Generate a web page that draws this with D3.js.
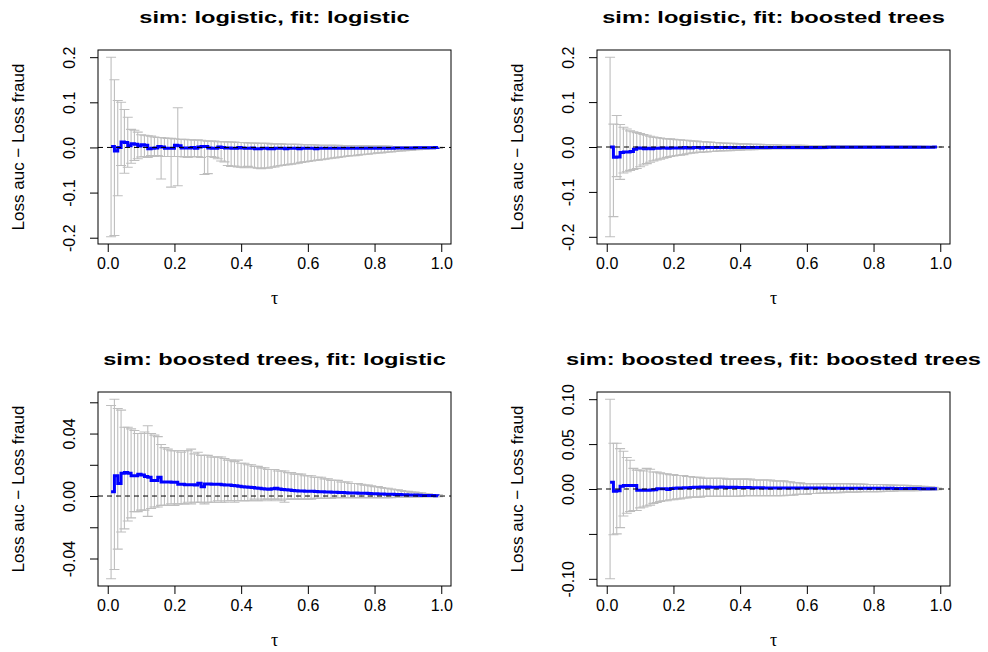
<!DOCTYPE html>
<html>
<head>
<meta charset="utf-8">
<title>Loss auc - Loss fraud by tau</title>
<style>
  body { margin: 0; background: #fff; }
  svg text { font-family: "Liberation Sans", Arial, Helvetica, sans-serif; fill: #000; }
</style>
</head>
<body>
<svg id="chart" width="988" height="652"></svg>
<script src="https://d3js.org/d3.v7.min.js"></script>
<script>
// tau grid shared by all four panels
const tau = [
  0.01, 0.02, 0.03, 0.04, 0.05, 0.06, 0.07, 0.08, 0.09, 0.10,
  0.11, 0.12, 0.13, 0.14, 0.15, 0.16, 0.17, 0.18, 0.19, 0.20,
  0.21, 0.22, 0.23, 0.24, 0.25, 0.26, 0.27, 0.28, 0.29, 0.30,
  0.31, 0.32, 0.33, 0.34, 0.35, 0.36, 0.37, 0.38, 0.39, 0.40,
  0.41, 0.42, 0.43, 0.44, 0.45, 0.46, 0.47, 0.48, 0.49, 0.50,
  0.51, 0.52, 0.53, 0.54, 0.55, 0.56, 0.57, 0.58, 0.59, 0.60,
  0.61, 0.62, 0.63, 0.64, 0.65, 0.66, 0.67, 0.68, 0.69, 0.70,
  0.71, 0.72, 0.73, 0.74, 0.75, 0.76, 0.77, 0.78, 0.79, 0.80,
  0.81, 0.82, 0.83, 0.84, 0.85, 0.86, 0.87, 0.88, 0.89, 0.90,
  0.91, 0.92, 0.93, 0.94, 0.95, 0.96, 0.97, 0.98, 0.99
];

const titles = [
  "sim: logistic, fit: logistic",
  "sim: logistic, fit: boosted trees",
  "sim: boosted trees, fit: logistic",
  "sim: boosted trees, fit: boosted trees"
];

// panel 1: sim logistic, fit logistic
const mean1 = [
  0.002, -0.008, 0.000, 0.012, 0.011, 0.004, 0.008, 0.007, 0.003, 0.006,
  0.005, -0.003, -0.002, -0.001, 0.002, 0.001, -0.002, -0.002, -0.002, 0.005,
  0.004, -0.001, -0.001, -0.001, 0.000, -0.002, 0.001, 0.002, 0.002, -0.001,
  -0.002, -0.002, 0.001, 0.000, -0.001, -0.001, -0.002, -0.002, 0.000, -0.001,
  -0.002, -0.002, -0.001, -0.003, -0.003, -0.002, -0.002, -0.003, -0.003, -0.002,
  -0.002, -0.002, -0.003, -0.002, -0.002, -0.002, -0.003, -0.002, -0.002, -0.002,
  -0.002, -0.003, -0.002, -0.002, -0.002, -0.002, -0.002, -0.002, -0.002, -0.002,
  -0.002, -0.002, -0.002, -0.002, -0.002, -0.002, -0.0015, -0.0015, -0.0015, -0.0015,
  -0.0015, -0.0015, -0.0015, -0.0015, -0.0015, -0.0012, -0.0012, -0.001, -0.001, -0.001,
  -0.001, -0.0008, -0.0008, -0.0006, -0.0006, -0.0005, -0.0004, -0.0003, -0.0002
];
const upper1 = [
  0.200, 0.150, 0.104, 0.100, 0.084, 0.067, 0.040, 0.038, 0.034, 0.028,
  0.027, 0.026, 0.025, 0.023, 0.022, 0.022, 0.021, 0.020, 0.020, 0.019,
  0.088, 0.018, 0.018, 0.017, 0.017, 0.016, 0.017, 0.016, 0.015, 0.014,
  0.014, 0.014, 0.013, 0.013, 0.013, 0.012, 0.012, 0.012, 0.011, 0.011,
  0.011, 0.010, 0.010, 0.010, 0.009, 0.009, 0.009, 0.009, 0.008, 0.008,
  0.008, 0.008, 0.007, 0.007, 0.007, 0.007, 0.007, 0.006, 0.006, 0.006,
  0.006, 0.006, 0.005, 0.005, 0.005, 0.005, 0.005, 0.005, 0.005, 0.004,
  0.004, 0.004, 0.004, 0.004, 0.004, 0.004, 0.004, 0.003, 0.003, 0.003,
  0.003, 0.003, 0.003, 0.003, 0.002, 0.002, 0.002, 0.002, 0.002, 0.002,
  0.002, 0.0015, 0.0015, 0.0012, 0.001, 0.001, 0.0008, 0.0006, 0.0005
];
const lower1 = [
  -0.198, -0.195, -0.107, -0.040, -0.057, -0.044, -0.035, -0.029, -0.025, -0.021,
  -0.020, -0.022, -0.018, -0.020, -0.018, -0.070, -0.020, -0.020, -0.088, -0.020,
  -0.085, -0.020, -0.021, -0.022, -0.020, -0.021, -0.020, -0.022, -0.060, -0.058,
  -0.020, -0.022, -0.025, -0.030, -0.032, -0.040, -0.042, -0.041, -0.043, -0.044,
  -0.045, -0.042, -0.044, -0.045, -0.046, -0.047, -0.045, -0.046, -0.044, -0.043,
  -0.041, -0.040, -0.039, -0.038, -0.037, -0.036, -0.035, -0.033, -0.032, -0.031,
  -0.030, -0.029, -0.028, -0.027, -0.026, -0.025, -0.024, -0.023, -0.022, -0.021,
  -0.020, -0.019, -0.018, -0.018, -0.017, -0.016, -0.015, -0.015, -0.014, -0.013,
  -0.012, -0.012, -0.011, -0.010, -0.010, -0.009, -0.008, -0.008, -0.007, -0.006,
  -0.006, -0.005, -0.005, -0.004, -0.004, -0.003, -0.003, -0.002, -0.002
];

// panel 2: sim logistic, fit boosted trees
const mean2 = [
  0.000, -0.023, -0.022, -0.012, -0.011, -0.011, -0.010, -0.005, -0.002, -0.003,
  -0.004, -0.003, -0.004, -0.003, -0.003, -0.002, -0.002, -0.003, -0.002, -0.002,
  -0.002, -0.002, -0.001, -0.002, -0.002, -0.001, -0.001, -0.002, -0.001, -0.001,
  -0.001, -0.001, -0.001, -0.001, -0.001, -0.001, -0.001, -0.001, -0.001, -0.001,
  -0.001, -0.001, -0.001, -0.001, -0.001, -0.001, -0.001, -0.001, -0.001, -0.001,
  -0.001, -0.001, -0.001, -0.001, -0.001, -0.001, -0.001, -0.001, -0.001, -0.001,
  -0.0009, -0.0009, -0.0009, -0.0009, -0.0009, -0.0008, -0.0008, -0.0008, -0.0008, -0.0008,
  -0.0008, -0.0008, -0.0008, -0.0008, -0.0008, -0.0007, -0.0007, -0.0007, -0.0007, -0.0007,
  -0.0006, -0.0006, -0.0006, -0.0006, -0.0006, -0.0005, -0.0005, -0.0005, -0.0005, -0.0005,
  -0.0004, -0.0004, -0.0004, -0.0004, -0.0004, -0.0003, -0.0003, -0.0002, -0.0002
];
const upper2 = [
  0.200, 0.051, 0.070, 0.050, 0.044, 0.040, 0.036, 0.034, 0.032, 0.030,
  0.028, 0.026, 0.024, 0.022, 0.021, 0.020, 0.019, 0.018, 0.018, 0.017,
  0.016, 0.016, 0.015, 0.015, 0.014, 0.013, 0.013, 0.012, 0.012, 0.011,
  0.011, 0.010, 0.010, 0.009, 0.009, 0.008, 0.008, 0.008, 0.007, 0.007,
  0.007, 0.007, 0.006, 0.006, 0.006, 0.006, 0.005, 0.005, 0.005, 0.005,
  0.005, 0.004, 0.004, 0.004, 0.004, 0.004, 0.004, 0.004, 0.004, 0.003,
  0.003, 0.003, 0.003, 0.003, 0.003, 0.003, 0.003, 0.003, 0.003, 0.003,
  0.003, 0.003, 0.003, 0.003, 0.003, 0.0025, 0.0025, 0.0025, 0.0025, 0.0025,
  0.0025, 0.0025, 0.0025, 0.002, 0.002, 0.002, 0.002, 0.002, 0.002, 0.002,
  0.002, 0.002, 0.002, 0.0015, 0.0015, 0.0015, 0.001, 0.001, 0.001
];
const lower2 = [
  -0.200, -0.155, -0.066, -0.072, -0.058, -0.055, -0.052, -0.050, -0.048, -0.044,
  -0.040, -0.037, -0.034, -0.031, -0.029, -0.027, -0.025, -0.023, -0.021, -0.020,
  -0.019, -0.018, -0.017, -0.015, -0.014, -0.013, -0.012, -0.012, -0.011, -0.011,
  -0.010, -0.010, -0.009, -0.009, -0.008, -0.008, -0.008, -0.007, -0.007, -0.007,
  -0.006, -0.006, -0.006, -0.006, -0.005, -0.005, -0.005, -0.005, -0.004, -0.004,
  -0.004, -0.004, -0.004, -0.004, -0.004, -0.004, -0.004, -0.004, -0.004, -0.004,
  -0.004, -0.004, -0.004, -0.004, -0.004, -0.0035, -0.0035, -0.0035, -0.0035, -0.0035,
  -0.0035, -0.0035, -0.0035, -0.003, -0.003, -0.003, -0.003, -0.003, -0.003, -0.003,
  -0.003, -0.003, -0.003, -0.0025, -0.0025, -0.0025, -0.0025, -0.0025, -0.0025, -0.0025,
  -0.002, -0.002, -0.002, -0.002, -0.0015, -0.0015, -0.0015, -0.001, -0.001
];

// panel 3: sim boosted trees, fit logistic
const mean3 = [
  0.0028, 0.013, 0.008, 0.0146, 0.015, 0.0146, 0.013, 0.013, 0.014, 0.0135,
  0.0125, 0.012, 0.010, 0.010, 0.012, 0.009, 0.009, 0.009, 0.0088, 0.0088,
  0.0075, 0.0075, 0.0073, 0.0072, 0.0072, 0.0070, 0.0082, 0.0060, 0.0077, 0.0077,
  0.0076, 0.0076, 0.0075, 0.0072, 0.0070, 0.0070, 0.0068, 0.0066, 0.0062, 0.0060,
  0.0058, 0.0056, 0.0055, 0.0052, 0.0050, 0.0047, 0.0045, 0.0044, 0.0046, 0.0050,
  0.0045, 0.0042, 0.0040, 0.0038, 0.0035, 0.0033, 0.0032, 0.0032, 0.0031, 0.0030,
  0.0030, 0.0029, 0.0028, 0.0027, 0.0026, 0.0025, 0.0024, 0.0024, 0.0023, 0.0022,
  0.0021, 0.0020, 0.0020, 0.0019, 0.0018, 0.0017, 0.0017, 0.0016, 0.0015, 0.0014,
  0.0013, 0.0013, 0.0012, 0.0012, 0.0011, 0.0010, 0.0009, 0.0008, 0.0008, 0.0007,
  0.0006, 0.0006, 0.0005, 0.0004, 0.0004, 0.0003, 0.0003, 0.0002, 0.0001
];
const upper3 = [
  0.058, 0.062, 0.056, 0.055, 0.044, 0.044, 0.043, 0.042, 0.040, 0.040,
  0.041, 0.045, 0.040, 0.039, 0.038, 0.033, 0.031, 0.030, 0.029, 0.029,
  0.029, 0.028, 0.029, 0.029, 0.030, 0.027, 0.028, 0.026, 0.026, 0.026,
  0.025, 0.025, 0.025, 0.025, 0.024, 0.023, 0.023, 0.022, 0.023, 0.021,
  0.021, 0.020, 0.020, 0.019, 0.019, 0.018, 0.018, 0.017, 0.017, 0.017,
  0.016, 0.016, 0.016, 0.015, 0.015, 0.014, 0.014, 0.014, 0.013, 0.013,
  0.013, 0.012, 0.012, 0.012, 0.011, 0.011, 0.010, 0.010, 0.010, 0.009,
  0.009, 0.009, 0.008, 0.008, 0.008, 0.0075, 0.007, 0.007, 0.0065, 0.006,
  0.006, 0.0055, 0.005, 0.005, 0.0045, 0.004, 0.004, 0.0035, 0.003, 0.003,
  0.0025, 0.0025, 0.002, 0.002, 0.0015, 0.0015, 0.001, 0.001, 0.0008
];
const lower3 = [
  -0.053, -0.047, -0.034, -0.023, -0.021, -0.016, -0.014, -0.010, -0.010, -0.009,
  -0.009, -0.013, -0.008, -0.007, -0.007, -0.006, -0.006, -0.006, -0.005, -0.006,
  -0.005, -0.005, -0.005, -0.004, -0.005, -0.004, -0.004, -0.004, -0.005, -0.004,
  -0.004, -0.004, -0.003, -0.004, -0.004, -0.003, -0.003, -0.004, -0.003, -0.003,
  -0.003, -0.003, -0.003, -0.002, -0.003, -0.003, -0.002, -0.002, -0.003, -0.002,
  -0.002, -0.003, -0.004, -0.002, -0.002, -0.002, -0.002, -0.002, -0.002, -0.002,
  -0.002, -0.0015, -0.0015, -0.0015, -0.0015, -0.0015, -0.0015, -0.001, -0.001, -0.001,
  -0.001, -0.001, -0.001, -0.001, -0.001, -0.001, -0.001, -0.001, -0.001, -0.001,
  -0.001, -0.001, -0.001, -0.001, -0.001, -0.0008, -0.0008, -0.0008, -0.0008, -0.0008,
  -0.0006, -0.0006, -0.0006, -0.0005, -0.0005, -0.0005, -0.0004, -0.0004, -0.0004
];

// panel 4: sim boosted trees, fit boosted trees
const mean4 = [
  0.0075, -0.0025, -0.002, 0.003, 0.004, 0.004, 0.004, 0.004, -0.0015, -0.0015,
  -0.0015, -0.0015, -0.001, -0.0007, 0.0003, 0.0003, 0.0002, -0.0005, 0.0005, 0.0008,
  0.0010, 0.0012, 0.0014, 0.0015, 0.0018, 0.0020, 0.0020, 0.0022, 0.0020, 0.0021,
  0.0020, 0.0019, 0.0020, 0.0021, 0.0019, 0.0018, 0.0019, 0.0020, 0.0018, 0.0017,
  0.0016, 0.0016, 0.0015, 0.0014, 0.0013, 0.0013, 0.0012, 0.0012, 0.0012, 0.0011,
  0.0011, 0.0011, 0.0011, 0.0011, 0.0011, 0.0010, 0.0010, 0.0010, 0.0010, 0.0010,
  0.0010, 0.0010, 0.0010, 0.0010, 0.0010, 0.0009, 0.0009, 0.0009, 0.0009, 0.0009,
  0.0009, 0.0009, 0.0009, 0.0008, 0.0008, 0.0008, 0.0008, 0.0008, 0.0008, 0.0008,
  0.0007, 0.0007, 0.0007, 0.0007, 0.0007, 0.0006, 0.0006, 0.0006, 0.0006, 0.0006,
  0.0005, 0.0005, 0.0005, 0.0004, 0.0004, 0.0004, 0.0003, 0.0002, 0.0002
];
const upper4 = [
  0.100, 0.051, 0.051, 0.045, 0.042, 0.035, 0.032, 0.023, 0.021, 0.021,
  0.020, 0.023, 0.022, 0.019, 0.019, 0.018, 0.017, 0.017, 0.016, 0.016,
  0.015, 0.015, 0.015, 0.014, 0.014, 0.013, 0.013, 0.013, 0.012, 0.012,
  0.012, 0.012, 0.012, 0.012, 0.012, 0.011, 0.011, 0.011, 0.011, 0.011,
  0.011, 0.011, 0.011, 0.010, 0.010, 0.010, 0.010, 0.010, 0.010, 0.009,
  0.009, 0.009, 0.009, 0.008, 0.008, 0.007, 0.007, 0.007, 0.006, 0.006,
  0.006, 0.006, 0.006, 0.006, 0.006, 0.006, 0.006, 0.006, 0.006, 0.006,
  0.006, 0.006, 0.006, 0.0055, 0.0055, 0.0055, 0.0055, 0.005, 0.005, 0.005,
  0.005, 0.005, 0.005, 0.0045, 0.0045, 0.0045, 0.004, 0.004, 0.004, 0.004,
  0.0035, 0.0035, 0.0035, 0.003, 0.003, 0.0025, 0.0025, 0.002, 0.001
];
const lower4 = [
  -0.100, -0.051, -0.050, -0.043, -0.030, -0.027, -0.025, -0.024, -0.024, -0.021,
  -0.020, -0.019, -0.018, -0.016, -0.015, -0.014, -0.013, -0.013, -0.012, -0.012,
  -0.011, -0.011, -0.010, -0.010, -0.009, -0.009, -0.009, -0.009, -0.008, -0.008,
  -0.008, -0.008, -0.008, -0.008, -0.008, -0.008, -0.008, -0.008, -0.008, -0.008,
  -0.0075, -0.0075, -0.0075, -0.0075, -0.0075, -0.0075, -0.0075, -0.0075, -0.0075, -0.0075,
  -0.0075, -0.0075, -0.0075, -0.007, -0.007, -0.007, -0.006, -0.006, -0.006, -0.006,
  -0.005, -0.005, -0.005, -0.0045, -0.0045, -0.0045, -0.004, -0.004, -0.004, -0.004,
  -0.0035, -0.0035, -0.0035, -0.0035, -0.0035, -0.003, -0.003, -0.003, -0.003, -0.003,
  -0.003, -0.003, -0.0025, -0.0025, -0.0025, -0.0025, -0.002, -0.002, -0.002, -0.002,
  -0.002, -0.002, -0.002, -0.0015, -0.0015, -0.0015, -0.001, -0.001, -0.0007
];

// axis ticks; labels R managed to fit without overlap
const xTicks = [0, 0.2, 0.4, 0.6, 0.8, 1.0];
const yTicksWide = [-0.2, -0.1, 0, 0.1, 0.2];
const yTicks3 = [-0.04, -0.02, 0, 0.02, 0.04, 0.06];
const yLabels3 = [-0.04, 0, 0.04];
const yTicks4 = [-0.10, -0.05, 0, 0.05, 0.10];
const yLabels4 = [-0.10, 0, 0.05, 0.10];

const panels = [
  { title: titles[0], mean: mean1, lo: lower1, hi: upper1, ticks: yTicksWide, labels: yTicksWide, fmt: ".1f", left: 98,  top: 50 },
  { title: titles[1], mean: mean2, lo: lower2, hi: upper2, ticks: yTicksWide, labels: yTicksWide, fmt: ".1f", left: 597, top: 50 },
  { title: titles[2], mean: mean3, lo: lower3, hi: upper3, ticks: yTicks3,    labels: yLabels3,   fmt: ".2f", left: 98,  top: 392 },
  { title: titles[3], mean: mean4, lo: lower4, hi: upper4, ticks: yTicks4,    labels: yLabels4,   fmt: ".2f", left: 597, top: 392 }
];

const pw = 353, ph = 194;
const svg = d3.select('#chart');

// R style axis range: data range padded by 4% on each side
function rRange(lo, hi) {
  const r = hi - lo;
  return [lo - 0.04 * r, hi + 0.04 * r];
}

// horizontal stretch of the original titles
const SX = 1.39;

panels.forEach(function(p) {
  const g = svg.append('g').attr('transform', `translate(${p.left}, ${p.top})`);

  const x = d3.scaleLinear()
    .domain(rRange(d3.min(tau), d3.max(tau)))
    .range([0, pw]);
  const y = d3.scaleLinear()
    .domain(rRange(d3.min(p.lo), d3.max(p.hi)))
    .range([ph, 0]);

  const rows = tau.map((t, i) => ({ t: t, m: p.mean[i], lo: p.lo[i], hi: p.hi[i] }));

  // error bars with flat caps
  const bars = g.append('g')
    .attr('stroke', '#bebebe')
    .attr('stroke-width', 1.1)
    .attr('fill', 'none');
  bars.selectAll('.bar')
    .data(rows)
    .enter()
    .append('path')
    .attr('class', 'bar')
    .attr('d', function(d) {
      const cx = x(d.t), y1 = y(d.lo), y2 = y(d.hi);
      return `M${cx},${y1}V${y2}M${cx - 5},${y1}H${cx + 5}M${cx - 5},${y2}H${cx + 5}`;
    });

  // mean as a step line
  const line = d3.line()
    .x(d => x(d.t))
    .y(d => y(d.m))
    .curve(d3.curveStepAfter);
  g.append('path')
    .datum(rows)
    .attr('d', line)
    .attr('fill', 'none')
    .attr('stroke', '#0000ff')
    .attr('stroke-width', 3);

  // reference line at zero
  g.append('line')
    .attr('x1', 0)
    .attr('x2', pw)
    .attr('y1', y(0))
    .attr('y2', y(0))
    .attr('stroke', '#000')
    .attr('stroke-dasharray', '5,4');

  // box
  g.append('rect')
    .attr('x', 0)
    .attr('y', 0)
    .attr('width', pw)
    .attr('height', ph)
    .attr('fill', 'none')
    .attr('stroke', '#000');

  // x axis
  const xAxis = g.append('g')
    .attr('transform', `translate(0, ${ph})`)
    .call(d3.axisBottom(x).tickValues(xTicks).tickSize(8).tickSizeOuter(0).tickPadding(6).tickFormat(d3.format('.1f')));
  xAxis.select('.domain').remove();
  xAxis.selectAll('text')
    .attr('font-size', 16)
    .attr('font-family', null);

  // y axis with labels parallel to the axis
  const yAxis = g.append('g')
    .call(d3.axisLeft(y).tickValues(p.ticks).tickSize(8).tickSizeOuter(0).tickFormat(''));
  yAxis.select('.domain').remove();
  yAxis.selectAll('.tick')
    .filter(d => p.labels.some(v => Math.abs(v - d) < 1e-9))
    .append('text')
    .attr('transform', 'rotate(-90)')
    .attr('x', 0)
    .attr('y', -23)
    .attr('text-anchor', 'middle')
    .attr('font-size', 16)
    .text(d => d3.format(p.fmt)(d).replace('\u2212', '-'));

  // title
  g.append('text')
    .attr('transform', `translate(${pw / 2}, ${-27}) scale(${SX}, 1)`)
    .attr('text-anchor', 'middle')
    .attr('font-size', 17)
    .attr('font-weight', 'bold')
    .text(p.title);

  // axis titles
  g.append('text')
    .attr('x', pw / 2)
    .attr('y', ph + 60)
    .attr('text-anchor', 'middle')
    .attr('font-size', 18)
    .style('font-family', '"Liberation Serif", "DejaVu Serif", serif')
    .text('\u03c4');
  g.append('text')
    .attr('transform', `translate(-74, ${ph / 2}) rotate(-90)`)
    .attr('text-anchor', 'middle')
    .attr('font-size', 17)
    .text('Loss auc \u2212 Loss fraud');
});
</script>
</body>
</html>
